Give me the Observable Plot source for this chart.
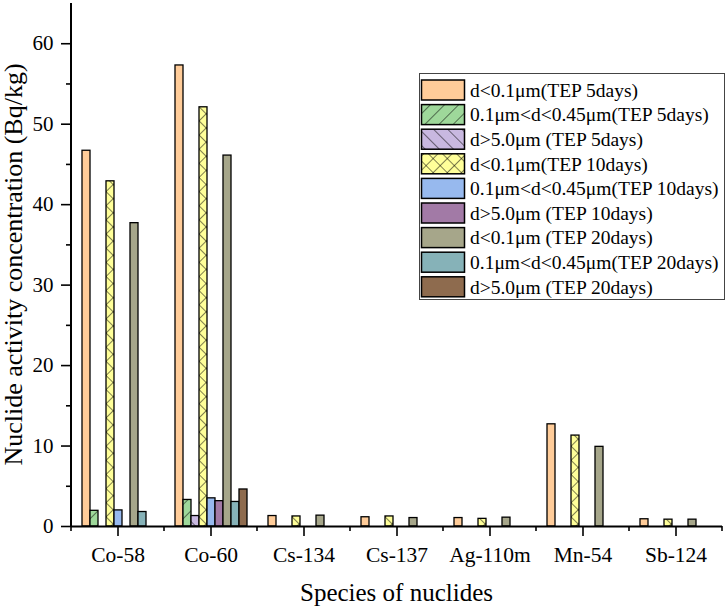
<!DOCTYPE html>
<html>
<head>
<meta charset="utf-8">
<script src="https://cdn.jsdelivr.net/npm/d3@7"></script>
<script src="https://cdn.jsdelivr.net/npm/@observablehq/plot@0.6"></script>
<style>
  html, body { margin: 0; padding: 0; background: #fff; }
</style>
</head>
<body>
<div id="chart"></div>
<script>
const nuclides = ["Co-58", "Co-60", "Cs-134", "Cs-137", "Ag-110m", "Mn-54", "Sb-124"];
const seriesNames = [
  "d<0.1μm(TEP 5days)",
  "0.1μm<d<0.45μm(TEP 5days)",
  "d>5.0μm (TEP 5days)",
  "d<0.1μm(TEP 10days)",
  "0.1μm<d<0.45μm(TEP 10days)",
  "d>5.0μm (TEP 10days)",
  "d<0.1μm (TEP 20days)",
  "0.1μm<d<0.45μm(TEP 20days)",
  "d>5.0μm (TEP 20days)"
];
// values per nuclide, in series order
const co58  = [46.7, 1.95, 0,   42.9, 2.0,  0,    37.7, 1.8,  0];
const co60  = [57.3, 3.3,  1.3, 52.1, 3.5,  3.15, 46.1, 3.05, 4.6];
const cs134 = [1.3,  0,    0,   1.25, 0,    0,    1.35, 0,    0];
const cs137 = [1.15, 0,    0,   1.25, 0,    0,    1.05, 0,    0];
const ag110 = [1.05, 0,    0,   0.95, 0,    0,    1.1,  0,    0];
const mn54  = [12.7, 0,    0,   11.3, 0,    0,    9.9,  0,    0];
const sb124 = [0.9,  0,    0,   0.85, 0,    0,    0.85, 0,    0];
const yMajorTicks = [0, 10, 20, 30, 40, 50, 60];
const yMinorTicks = [5, 15, 25, 35, 45, 55];

const baseColors = ["#FFCC99", "#9ED89A", "#C8B8E0", "#FFFF99", "#97B9EE", "#A27AA6", "#A6A68A", "#86B2B8", "#8E6B4E"];
const fills = ["#FFCC99", "url(#pGreen)", "url(#pLav)", "url(#pYellow)", "#97B9EE", "#A27AA6", "#A6A68A", "#86B2B8", "#8E6B4E"];

const valuesByNuclide = [co58, co60, cs134, cs137, ag110, mn54, sb124];
const table = [];
nuclides.forEach((n, i) => {
  valuesByNuclide[i].forEach((v, j) => {
    if (v > 0) table.push({nuclide: n, series: seriesNames[j], value: v});
  });
});

const FONT = "Liberation Serif, Times New Roman, serif";

const plot = Plot.plot({
  width: 726,
  height: 610,
  marginLeft: 71,
  marginRight: 4,
  marginTop: 3,
  marginBottom: 84,
  style: {fontFamily: FONT, background: "white", color: "black"},
  fx: {domain: nuclides, padding: 0, label: null},
  x: {domain: seriesNames, paddingInner: 0, paddingOuter: 1.08, axis: null},
  y: {domain: [0, 65], label: null},
  color: {domain: seriesNames, range: fills},
  marks: [
    Plot.barY(table, {fx: "nuclide", x: "series", y: "value", fill: "series", stroke: "black", strokeWidth: 1.3}),
    Plot.ruleY([0], {strokeWidth: 2}),
    Plot.axisY({ticks: yMinorTicks, tickSize: 5, tickFormat: () => "", strokeWidth: 1.6, label: null}),
    Plot.axisY({ticks: yMajorTicks, tickSize: 10, tickPadding: 8, fontSize: 21, strokeWidth: 1.6, label: null}),
    Plot.axisFx({anchor: "bottom", tickSize: 10, tickPadding: 10, fontSize: 21.5, strokeWidth: 1.6, label: null})
  ]
});

document.getElementById("chart").appendChild(plot);

const svg = d3.select(plot);
const defs = svg.insert("defs", ":first-child");
function hatch(id, bg, angle, cross, size) {
  const p = defs.append("pattern")
    .attr("id", id)
    .attr("patternUnits", "userSpaceOnUse")
    .attr("width", size).attr("height", size)
    .attr("patternTransform", `rotate(${angle})`);
  p.append("rect").attr("width", size).attr("height", size).attr("fill", bg);
  p.append("line").attr("x1", 0).attr("y1", 0).attr("x2", 0).attr("y2", size)
    .attr("stroke", "black").attr("stroke-width", 1);
  if (cross) {
    p.append("line").attr("x1", 0).attr("y1", 0).attr("x2", size).attr("y2", 0)
      .attr("stroke", "black").attr("stroke-width", 1);
  }
}
hatch("pGreen", baseColors[1], 45, false, 10);
hatch("pLav", baseColors[2], -45, false, 10);
hatch("pYellow", baseColors[3], 45, true, 10);

const fx = plot.scale("fx");
const ys = plot.scale("y");
const y0 = ys.apply(0);
const yTop = ys.apply(65);
const bw = fx.bandwidth;
const left = fx.apply(nuclides[0]);
const right = fx.apply(nuclides[nuclides.length - 1]) + bw;

// y-axis line
svg.append("line")
  .attr("x1", left).attr("x2", left)
  .attr("y1", y0 + 1).attr("y2", yTop)
  .attr("stroke", "black").attr("stroke-width", 2);

// minor x ticks at category boundaries
const bounds = nuclides.map(n => fx.apply(n)).concat([right]);
svg.append("g").selectAll("line").data(bounds).join("line")
  .attr("x1", d => d).attr("x2", d => d)
  .attr("y1", y0).attr("y2", y0 + 5)
  .attr("stroke", "black").attr("stroke-width", 1.6);

// axis titles
svg.append("text")
  .attr("x", (left + right) / 2)
  .attr("y", 601)
  .attr("text-anchor", "middle")
  .attr("font-family", FONT)
  .attr("font-size", 25)
  .attr("fill", "black")
  .text("Species of nuclides");

svg.append("text")
  .attr("transform", `translate(22,${(y0 + yTop) / 2}) rotate(-90)`)
  .attr("text-anchor", "middle")
  .attr("font-family", FONT)
  .attr("font-size", 26)
  .attr("fill", "black")
  .text("Nuclide activity concentration (Bq/kg)");

// legend
const lg = svg.append("g").attr("transform", "translate(419,73)");
lg.append("rect").attr("x", 0.5).attr("y", 0.5).attr("width", 305).attr("height", 226)
  .attr("fill", "white").attr("stroke", "#444").attr("stroke-width", 1);
seriesNames.forEach((s, i) => {
  const cy = 17 + i * 24.6;
  lg.append("rect").attr("x", 2.5).attr("y", cy - 10).attr("width", 43).attr("height", 20)
    .attr("fill", fills[i]).attr("stroke", "black").attr("stroke-width", 1.5);
  lg.append("text").attr("x", 51).attr("y", cy).attr("dy", "0.35em")
    .attr("text-anchor", "start")
    .attr("font-family", FONT).attr("font-size", 19.5).attr("fill", "black")
    .text(s);
});
</script>
</body>
</html>
